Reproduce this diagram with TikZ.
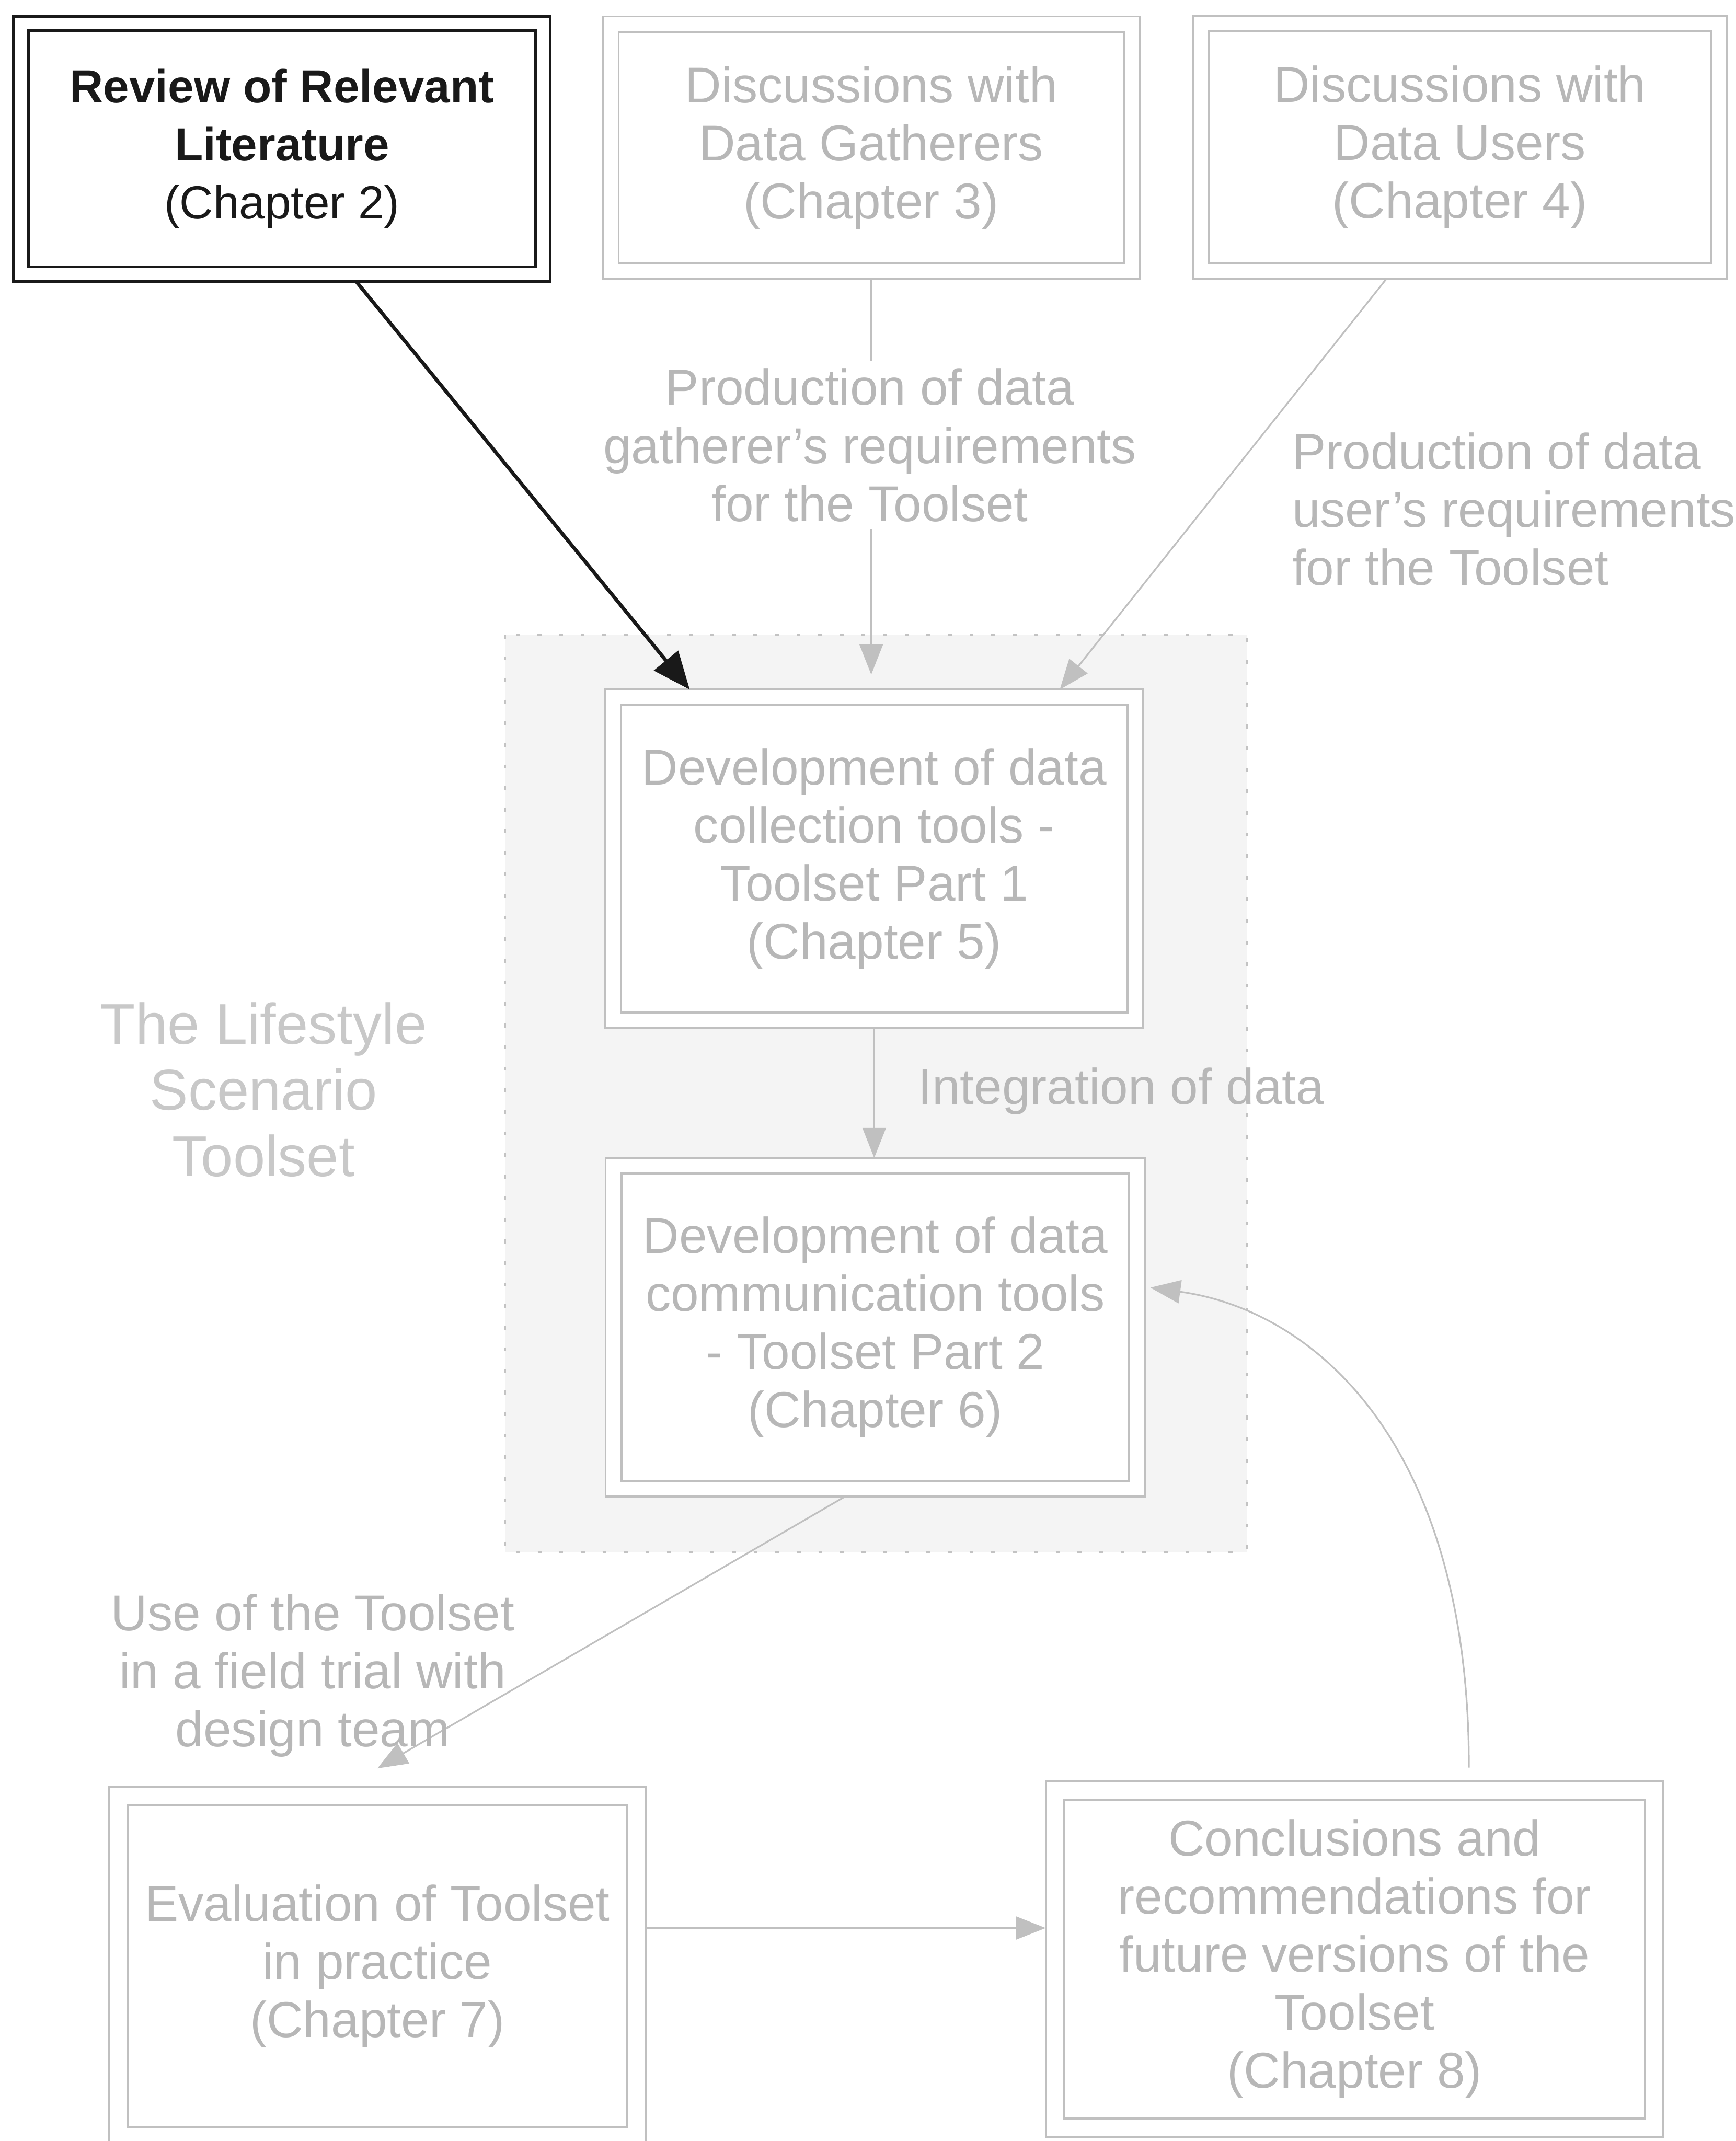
\documentclass[tikz,border=0pt]{standalone}
\usepackage{fontspec}
\setmainfont{Liberation Sans}
\usetikzlibrary{arrows.meta,calc}

\definecolor{inkdark}{RGB}{25,25,25}
\definecolor{inkgray}{RGB}{183,183,183}
\definecolor{palegray}{RGB}{200,200,200}
\definecolor{linegray}{RGB}{192,192,192}
\definecolor{zonefill}{RGB}{244,244,244}
\definecolor{zoneedge}{RGB}{195,195,195}

\newcommand\boxfont{\fontsize{21}{24.2}\selectfont}
\newcommand\headfont{\fontsize{19.4}{24.2}\selectfont}
\newcommand\sidefont{\fontsize{24}{27.6}\selectfont}

\tikzset{
  darkbox/.style={draw=inkdark, line width=1.2pt, fill=white, inner sep=0pt, outer sep=0pt,
    font=\headfont, text=inkdark, align=center,
    path picture={\draw[inkdark, line width=1.2pt]
      ([shift={(0.22cm,-0.21cm)}]path picture bounding box.north west) rectangle
      ([shift={(-0.22cm,0.21cm)}]path picture bounding box.south east);}},
  greybox/.style={draw=linegray, line width=0.8pt, fill=white, inner sep=0pt, outer sep=0pt,
    font=\boxfont, text=inkgray, align=center,
    path picture={\draw[linegray, line width=0.8pt]
      ([shift={(#1,-#1)}]path picture bounding box.north west) rectangle
      ([shift={(-#1,#1)}]path picture bounding box.south east);}},
  greybox/.default=0.23cm,
  greytext/.style={font=\boxfont, text=inkgray, align=center, inner sep=0pt},
  zone/.style={fill=zonefill, draw=zoneedge, line width=0.8pt, dash pattern=on 1.6pt off 7.4pt},
  arr/.style={draw=linegray, line width=0.7pt, -{Triangle[length=0.44cm,width=0.34cm]}},
  darkarr/.style={draw=inkdark, line width=1.5pt, -{Triangle[length=0.55cm,width=0.45cm]}}
}

\begin{document}
\begin{tikzpicture}[x=0.02cm,y=-0.02cm]
\useasboundingbox (0,0) rectangle (1271,1568);

% shaded zone holding the two toolset parts
\draw[zone] (370,465) rectangle (913,1137);

% top row
\node[darkbox, minimum width=7.86cm, minimum height=3.88cm] (b1) at (206.5,109)
  {\textbf{Review of Relevant}\\\textbf{Literature}\\(Chapter 2)};
\node[greybox, minimum width=7.86cm, minimum height=3.85cm] (b2) at (638,108.3)
  {Discussions with\\Data Gatherers\\(Chapter 3)};
\node[greybox, minimum width=7.82cm, minimum height=3.85cm] (b3) at (1069,107.8)
  {Discussions with\\Data Users\\(Chapter 4)};

% toolset parts
\node[greybox, minimum width=7.88cm, minimum height=4.96cm] (b4) at (640.2,629)
  {Development of data\\collection tools -\\Toolset Part 1\\(Chapter 5)};
\node[greybox, minimum width=7.90cm, minimum height=4.96cm] (b5) at (641,972)
  {Development of data\\communication tools\\- Toolset Part 2\\(Chapter 6)};

% bottom row
\node[greybox=0.27cm, minimum width=7.86cm, minimum height=5.25cm] (b6) at (276.4,1439.8)
  {Evaluation of Toolset\\in practice\\(Chapter 7)};
\node[greybox=0.27cm, minimum width=9.05cm, minimum height=5.21cm] (b7) at (992,1434.7)
  {Conclusions and\\recommendations for\\future versions of the\\Toolset\\(Chapter 8)};

% free labels
\node[font=\sidefont, text=palegray, align=center, inner sep=0pt] (lside) at (193,798)
  {The Lifestyle\\Scenario\\Toolset};
\node[greytext, anchor=west, align=left] (lusers) at (946,373)
  {Production of data\\user’s requirements\\for the Toolset};
\node[greytext, anchor=west] (lint) at (672,799) {Integration of data};

% connectors
\draw[darkarr] ($(b1.south west)!0.638!(b1.south east)$) -- ($(b4.north west)!0.157!(b4.north east)$);
\draw[arr, shorten >=0.22cm] (b2.south) -- (b2.south |- b4.north);
\node[greytext, fill=white, inner sep=3pt] (lgath) at (637,326)
  {Production of data\\gatherer’s requirements\\for the Toolset};
\draw[arr] ($(b3.south west)!0.363!(b3.south east)$) -- ($(b4.north west)!0.845!(b4.north east)$);
\draw[arr] (b4.south) -- (b4.south |- b5.north);
\draw[arr] ($(b5.south west)!0.444!(b5.south east)$) -- ([yshift=0.27cm]b6.north);
\node[greytext] (luse) at (229,1227) {Use of the Toolset\\in a field trial with\\design team};
\coordinate (evrow) at (0,1412);
\draw[arr] (b6.east |- evrow) -- (b7.west |- evrow);
\coordinate (c7top) at ($(b7.north west)!0.685!(b7.north east)$);
\coordinate (c5side) at ($(b5.north east)!0.383!(b5.south east)$);
\draw[arr] ([yshift=0.2cm]c7top) .. controls (1076,1060) and (965,960) .. ([xshift=0.08cm]c5side);
\end{tikzpicture}
\end{document}
